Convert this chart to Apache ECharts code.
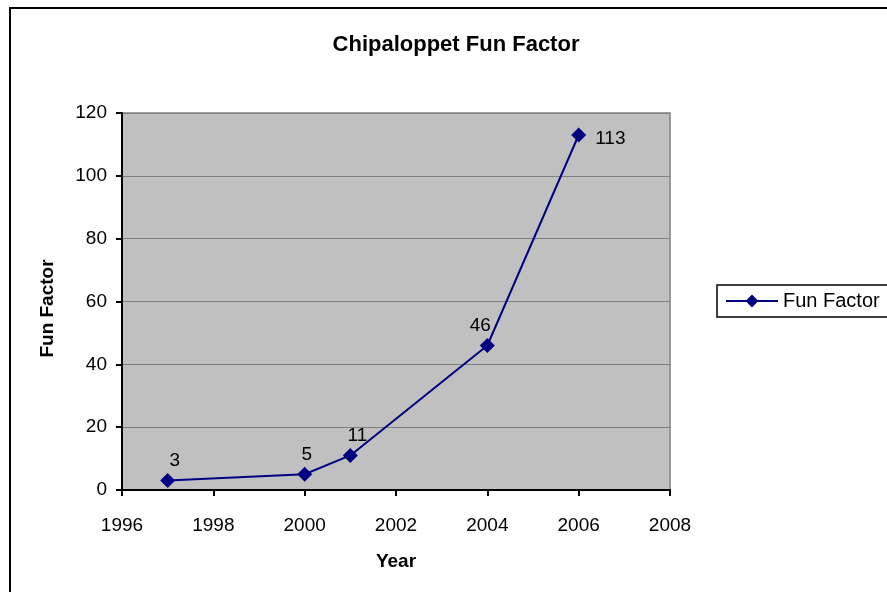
<!DOCTYPE html>
<html lang="en">
<head>
    <meta charset="UTF-8">
    <title>Chipaloppet Fun Factor</title>
    <style>
        html, body { margin: 0; padding: 0; width: 100%; height: 100%; background: #fff; }
        #main { width: 887px; height: 592px; }
    </style>
</head>
<body>
    <div id="main"></div>
    <script src="https://cdn.jsdelivr.net/npm/echarts@6/dist/echarts.min.js"></script>
    <script>
        // data
        var years = [1997, 2000, 2001, 2004, 2006];
        var funFactor = [3, 5, 11, 46, 113];
        var labelPos = ['top', 'top', 'top', 'top', 'right'];
        var labelShift = [[7, 0], [2, 0], [7, 0], [-7, 0], [6, 4]];

        var font = 'Liberation Sans, Arial, sans-serif';
        var points = years.map(function (y, i) {
            return { value: [y, funFactor[i]], label: { position: labelPos[i], offset: labelShift[i] } };
        });

        var myChart = echarts.init(document.getElementById('main'));
        myChart.setOption({
            backgroundColor: '#fff',
            animation: false,
            title: {
                text: 'Chipaloppet Fun Factor',
                left: 451, top: 29, textAlign: 'center',
                textStyle: { fontFamily: font, fontSize: 22, fontWeight: 'bold', color: '#000' }
            },
            // outer chart border
            graphic: [{
                type: 'rect', silent: true,
                shape: { x: 10, y: 8, width: 900, height: 600 },
                style: { fill: 'none', stroke: '#000', lineWidth: 2 }
            }],
            legend: {
                left: 717, top: 285,
                orient: 'vertical',
                borderColor: '#000', borderWidth: 1.5, borderRadius: 0,
                padding: [6, 12, 6, 8],
                itemWidth: 52, itemHeight: 16, itemGap: 4,
                textStyle: { fontFamily: font, fontSize: 20, color: '#000' },
                data: ['Fun Factor']
            },
            grid: { left: 122, right: 217, top: 113, bottom: 102, show: true, backgroundColor: '#c0c0c0', borderColor: '#808080', borderWidth: 1.5 },
            xAxis: {
                type: 'value', min: 1996, max: 2008, interval: 2,
                name: 'Year', nameLocation: 'middle', nameGap: 62,
                nameTextStyle: { fontFamily: font, fontSize: 19, fontWeight: 'bold', color: '#000' },
                axisLine: { lineStyle: { color: '#000', width: 2 } },
                axisTick: { show: true, inside: false, length: 6, lineStyle: { color: '#000', width: 2 } },
                axisLabel: { fontFamily: font, fontSize: 19, color: '#000', margin: 26, formatter: function (v) { return String(v); } },
                splitLine: { show: false }
            },
            yAxis: {
                type: 'value', min: 0, max: 120, interval: 20,
                name: 'Fun Factor', nameLocation: 'middle', nameGap: 65, nameRotate: 90,
                nameTextStyle: { fontFamily: font, fontSize: 19, fontWeight: 'bold', color: '#000', padding: [0, 14, 0, 0] },
                axisLine: { show: true, lineStyle: { color: '#000', width: 2 } },
                axisTick: { show: true, inside: false, length: 6, lineStyle: { color: '#000', width: 2 } },
                axisLabel: { fontFamily: font, fontSize: 19, color: '#000', margin: 15 },
                splitLine: { show: true, lineStyle: { color: '#808080', width: 1 } }
            },
            series: [{
                name: 'Fun Factor',
                type: 'line',
                data: points,
                symbol: 'diamond', symbolSize: 15,
                itemStyle: { color: '#000080' },
                lineStyle: { color: '#000080', width: 2 },
                label: { show: true, fontFamily: font, fontSize: 19, color: '#000', distance: 3 }
            }]
        });
    </script>
</body>
</html>
